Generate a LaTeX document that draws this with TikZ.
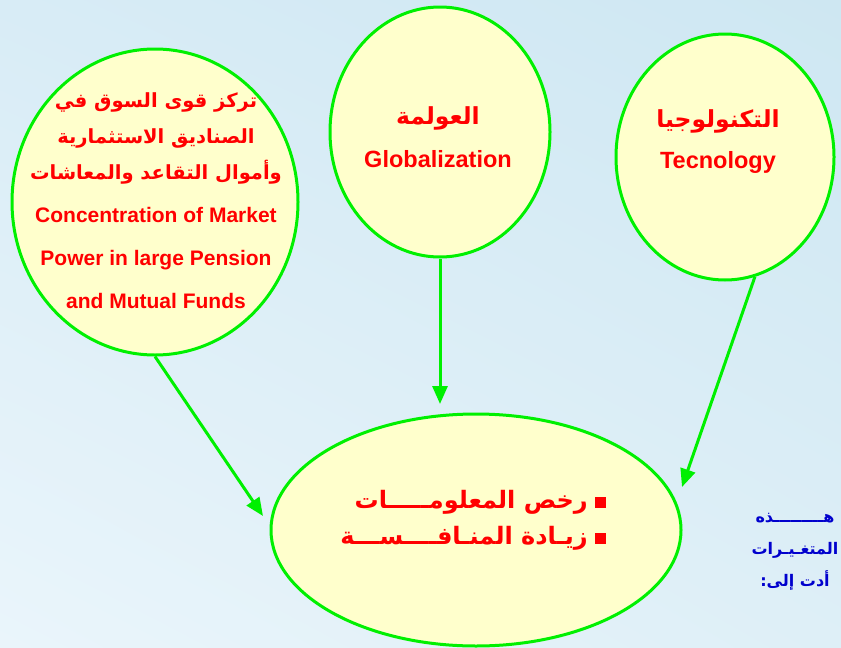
\documentclass[tikz,border=0pt]{standalone}
\usepackage{fontspec}
\setmainfont{Liberation Sans}
\newfontfamily\arabicfont[Script=Arabic]{DejaVu Sans}
\TeXXeTstate=1
\usetikzlibrary{shapes.geometric,arrows.meta,shadings}

\definecolor{linegreen}{RGB}{0,240,0}
\definecolor{bubblefill}{RGB}{255,255,204}
\definecolor{textred}{RGB}{255,0,0}
\definecolor{noteblue}{RGB}{0,0,205}
\definecolor{bgA}{RGB}{216,236,246}
\definecolor{bgB}{RGB}{206,231,242}
\definecolor{bgC}{RGB}{234,245,251}
\definecolor{bgD}{RGB}{222,239,247}

% one right-to-left line, optional size first
\newcommand{\arline}[2][]{{#1\arabicfont\bfseries\beginR #2\endR}}
\newcommand{\arsmall}{\fontsize{19.5}{36}\selectfont}

\tikzset{bubble/.style={ellipse, draw=linegreen, line width=3pt, fill=bubblefill, inner sep=0pt},
    redtext/.style={text=textred, font=\bfseries, align=center},
    link/.style={draw=linegreen, line width=3pt, -{Triangle[length=18pt,width=15pt]}},
    }

\begin{document}
\begin{tikzpicture}[x=1pt,y=-1pt]
\useasboundingbox (0,0) rectangle (841,648);
\shade[upper left=bgA, upper right=bgB, lower left=bgC, lower right=bgD] (0,0) rectangle (841,648);

% the three causes
\node[bubble, minimum width=286pt, minimum height=306pt] (market) at (155,202) {};
\node[bubble, minimum width=220pt, minimum height=250pt] (global) at (440,132) {};
\node[bubble, minimum width=218pt, minimum height=246pt] (tech) at (725,157) {};
% the result
\node[bubble, minimum width=410pt, minimum height=232pt] (result) at (476,530) {};

\node[redtext, font=\bfseries\fontsize{21}{36}\selectfont] (markettxt) at (156,201)
    {\arline[\arsmall]{تركز قوى السوق في}\\ \arline[\arsmall]{الصناديق الاستثمارية}\\ \arline[\arsmall]{وأموال التقاعد والمعاشات}\\[7pt]
     Concentration of Market\\[7pt] Power in large Pension\\[7pt] and Mutual Funds};
\node[redtext, font=\bfseries\fontsize{23.5}{43}\selectfont] (globaltxt) at (438,137)
    {\arline{العولمة}\\ Globalization};
\node[redtext, font=\bfseries\fontsize{23.5}{41}\selectfont] (techtxt) at (718,142)
    {\arline{التكنولوجيا}\\ Tecnology};
\node[redtext, font=\bfseries\fontsize{24}{36}\selectfont, align=right] (resulttxt) at (473,520)
    {\arline{\rule{11pt}{11pt}\hspace{7pt}رخص المعلومـــــات}\\
     \arline{\rule{11pt}{11pt}\hspace{7pt}زيـادة المنـافــــســـة}};

\node[text=noteblue, font=\bfseries\fontsize{16}{32}\selectfont, align=center] (note) at (795,552)
    {\arline{هـــــــــذه}\\ \arline{المتغـيـرات}\\ \arline{أدت إلى:}};

% arrows into the result
\coordinate (tipL) at (263,516);
\coordinate (tipM) at (440,404);
\coordinate (tipR) at (682,487);
\draw[link] (market.south) -- (tipL);
\draw[link] (global.south) -- (tipM);
\draw[link] (tech.-76) -- (tipR);
\end{tikzpicture}
\end{document}
